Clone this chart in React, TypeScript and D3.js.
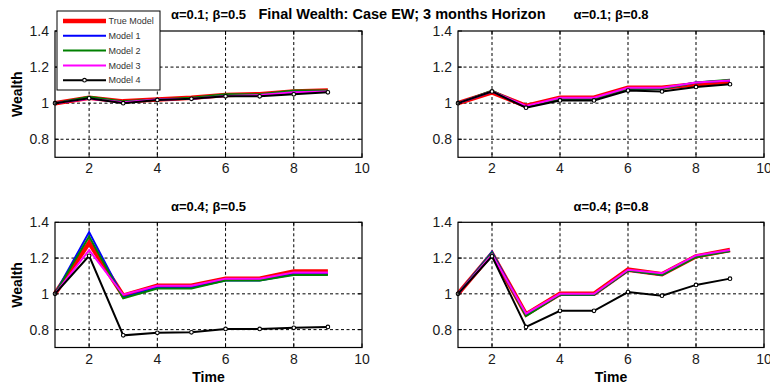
import React from "react";
import * as d3 from "d3";

const times = [1, 2, 3, 4, 5, 6, 7, 8, 9];
const xTicks = [2, 4, 6, 8, 10];
const yTicks = [0.8, 1, 1.2, 1.4];
const seriesNames = ["True Model", "Model 1", "Model 2", "Model 3", "Model 4"];
const seriesColors = ["#ff0000", "#0000ff", "#008000", "#ff00ff", "#000000"];
const seriesWidths = [4.5, 2, 2, 2, 2];

const mainTitle = "Final Wealth: Case EW; 3 months Horizon";
const panelTitles = ["α=0.1; β=0.5", "α=0.1; β=0.8", "α=0.4; β=0.5", "α=0.4; β=0.8"];

// top-left: alpha=0.1, beta=0.5
const tlTrue = [1.0, 1.03, 1.01, 1.02, 1.03, 1.045, 1.05, 1.065, 1.07];
const tlM1 = [1.0, 1.03, 1.005, 1.02, 1.025, 1.045, 1.045, 1.06, 1.065];
const tlM2 = [1.0, 1.035, 1.01, 1.02, 1.03, 1.05, 1.05, 1.07, 1.07];
const tlM3 = [1.0, 1.025, 1.005, 1.02, 1.025, 1.04, 1.045, 1.06, 1.065];
const tlM4 = [1.0, 1.027, 1.0, 1.018, 1.024, 1.038, 1.038, 1.049, 1.06];

// top-right: alpha=0.1, beta=0.8
const trTrue = [1.0, 1.06, 0.985, 1.03, 1.03, 1.085, 1.085, 1.105, 1.12];
const trM1 = [1.0, 1.065, 0.98, 1.025, 1.025, 1.08, 1.08, 1.115, 1.125];
const trM2 = [1.0, 1.07, 0.98, 1.025, 1.025, 1.08, 1.08, 1.115, 1.13];
const trM3 = [1.0, 1.065, 0.985, 1.03, 1.03, 1.085, 1.085, 1.115, 1.125];
const trM4 = [1.0, 1.065, 0.975, 1.015, 1.015, 1.07, 1.065, 1.09, 1.105];

// bottom-left: alpha=0.4, beta=0.5
const blTrue = [1.0, 1.285, 0.99, 1.045, 1.045, 1.085, 1.085, 1.125, 1.125];
const blM1 = [1.0, 1.345, 0.98, 1.035, 1.035, 1.075, 1.075, 1.11, 1.11];
const blM2 = [1.0, 1.32, 0.975, 1.03, 1.03, 1.075, 1.075, 1.105, 1.105];
const blM3 = [1.0, 1.245, 0.995, 1.045, 1.045, 1.085, 1.085, 1.12, 1.12];
const blM4 = [1.0, 1.213, 0.768, 0.782, 0.785, 0.804, 0.804, 0.81, 0.815];

// bottom-right: alpha=0.4, beta=0.8
const brTrue = [1.0, 1.225, 0.885, 1.0, 1.0, 1.135, 1.11, 1.21, 1.245];
const brM1 = [1.0, 1.235, 0.88, 0.995, 0.995, 1.13, 1.105, 1.21, 1.24];
const brM2 = [1.0, 1.23, 0.875, 0.995, 0.995, 1.13, 1.105, 1.205, 1.24];
const brM3 = [1.0, 1.22, 0.89, 1.0, 1.0, 1.135, 1.115, 1.215, 1.245];
const brM4 = [1.0, 1.21, 0.815, 0.905, 0.905, 1.01, 0.99, 1.05, 1.085];

const FONT = "'Liberation Sans', Arial, sans-serif";

type PanelProps = {
  x0: number; x1: number; y0: number; y1: number;
  title: string; series: number[][]; showYLabel: boolean; showXLabel: boolean; titleY: number;
};

function Panel({ x0, x1, y0, y1, title, series, showYLabel, showXLabel, titleY }: PanelProps) {
  const xs = d3.scaleLinear().domain([1, 10]).range([x0, x1]);
  const ys = d3.scaleLinear().domain([0.7, 1.4]).range([y1, y0]);
  const line = d3.line<number>().x((_, i) => xs(times[i])).y((v) => ys(v));
  const cx = (x0 + x1) / 2;
  return (
    <g>
      {xTicks.filter((t) => t < 10).map((t) => (
        <line key={"gx" + t} x1={xs(t)} x2={xs(t)} y1={y0} y2={y1} stroke="#000" strokeWidth={1} strokeDasharray="3,2.5" />
      ))}
      {yTicks.filter((t) => t < 1.4).map((t) => (
        <line key={"gy" + t} x1={x0} x2={x1} y1={ys(t)} y2={ys(t)} stroke="#000" strokeWidth={1} strokeDasharray="3,2.5" />
      ))}
      {series.map((s, k) => (
        <path key={"s" + k} d={line(s) || ""} fill="none" stroke={seriesColors[k]} strokeWidth={seriesWidths[k]} strokeLinejoin="miter" />
      ))}
      {series[4].map((v, i) => (
        <circle key={"m" + i} cx={xs(times[i])} cy={ys(v)} r={1.8} fill="#fff" stroke="#000" strokeWidth={1.1} />
      ))}
      <rect x={x0} y={y0} width={x1 - x0} height={y1 - y0} fill="none" stroke="#000" strokeWidth={1.2} />
      {xTicks.map((t) => (
        <g key={"tx" + t}>
          <line x1={xs(t)} x2={xs(t)} y1={y1} y2={y1 - 4} stroke="#000" />
          <line x1={xs(t)} x2={xs(t)} y1={y0} y2={y0 + 4} stroke="#000" />
          <text x={xs(t)} y={y1 + 16} textAnchor="middle" fontFamily={FONT} fontSize={14} fill="#1a1a1a">{t}</text>
        </g>
      ))}
      {yTicks.map((t) => (
        <g key={"ty" + t}>
          <line x1={x0} x2={x0 + 4} y1={ys(t)} y2={ys(t)} stroke="#000" />
          <line x1={x1} x2={x1 - 4} y1={ys(t)} y2={ys(t)} stroke="#000" />
          <text x={x0 - 6} y={ys(t)} dy="0.36em" textAnchor="end" fontFamily={FONT} fontSize={14} fill="#1a1a1a">{String(t === 1 ? "1" : t.toFixed(1))}</text>
        </g>
      ))}
      <text x={cx} y={titleY} textAnchor="middle" fontFamily={FONT} fontSize={13} fontWeight="bold" fill="#000">{title}</text>
      {showYLabel && (
        <text transform={`translate(${21.5},${(y0 + y1) / 2}) rotate(-90)`} textAnchor="middle" fontFamily={FONT} fontSize={14} fontWeight="bold" fill="#000">Wealth</text>
      )}
      {showXLabel && (
        <text x={cx} y={y1 + 34} textAnchor="middle" fontFamily={FONT} fontSize={14} fontWeight="bold" fill="#000">Time</text>
      )}
    </g>
  );
}

function Legend() {
  const lx = 57, ly = 11, w = 103, h = 79;
  const rowY = (i: number) => ly + 10 + i * 14.8;
  return (
    <g>
      <rect x={lx} y={ly} width={w} height={h} fill="#fff" stroke="#000" strokeWidth={1} />
      {seriesNames.map((n, i) => (
        <g key={n}>
          <line x1={63} x2={106} y1={rowY(i)} y2={rowY(i)} stroke={seriesColors[i]} strokeWidth={seriesWidths[i]} />
          {i === 4 && <circle cx={84.5} cy={rowY(i)} r={1.8} fill="#fff" stroke="#000" strokeWidth={1.1} />}
          <text x={108.5} y={rowY(i)} dy="0.35em" fontFamily={FONT} fontSize={9} fill="#333">{n}</text>
        </g>
      ))}
    </g>
  );
}

export default function App() {
  const L = [55, 362], R = [458, 764];
  const T = [31, 157.3], B = [222.3, 347.5];
  return (
    <svg width={770} height={389} style={{ position: "absolute", left: 0, top: 0, background: "#fff" }}>
      <rect x={0} y={0} width={770} height={389} fill="#fff" />
      <Panel x0={L[0]} x1={L[1]} y0={T[0]} y1={T[1]} title={panelTitles[0]} series={[tlTrue, tlM1, tlM2, tlM3, tlM4]} showYLabel showXLabel={false} titleY={19} />
      <Panel x0={R[0]} x1={R[1]} y0={T[0]} y1={T[1]} title={panelTitles[1]} series={[trTrue, trM1, trM2, trM3, trM4]} showYLabel={false} showXLabel={false} titleY={19} />
      <Panel x0={L[0]} x1={L[1]} y0={B[0]} y1={B[1]} title={panelTitles[2]} series={[blTrue, blM1, blM2, blM3, blM4]} showYLabel showXLabel titleY={210.5} />
      <Panel x0={R[0]} x1={R[1]} y0={B[0]} y1={B[1]} title={panelTitles[3]} series={[brTrue, brM1, brM2, brM3, brM4]} showYLabel={false} showXLabel titleY={210.5} />
      <text x={402} y={18.5} textAnchor="middle" fontFamily={FONT} fontSize={14.5} fontWeight="bold" fill="#000">{mainTitle}</text>
      <Legend />
    </svg>
  );
}
